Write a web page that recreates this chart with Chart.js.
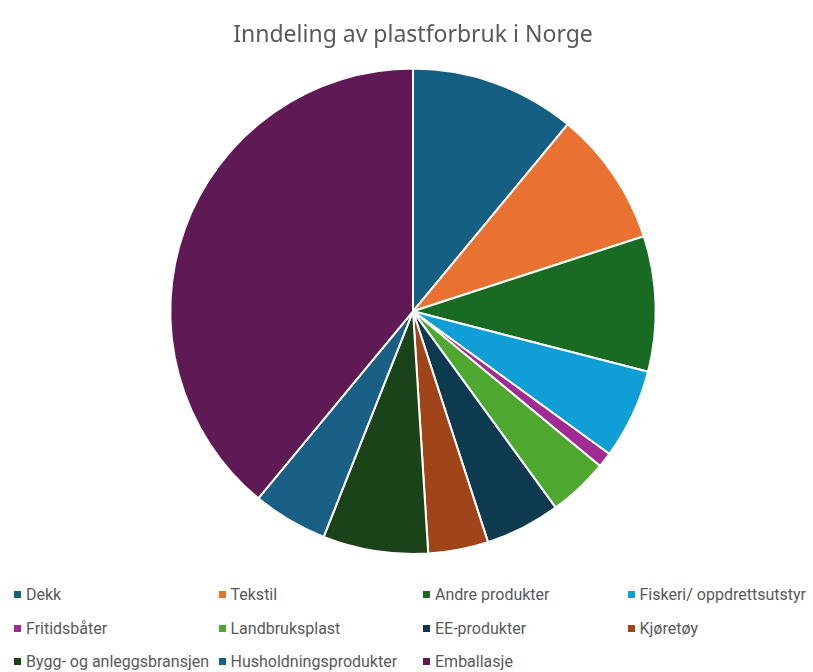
<!DOCTYPE html>
<html>
<head>
<meta charset="utf-8">
<script src="https://cdn.jsdelivr.net/npm/chart.js@4"></script>
<style>
  html, body { margin: 0; padding: 0; background: #fff; }
  #wrap { position: relative; width: 813px; height: 672px; }
  #chart { position: absolute; left: 0; top: 0; }
  #legend { position: absolute; left: 14px; top: 578px; font-family: 'Roboto', sans-serif; font-size: 16px; color: #595959; }
  .row { display: flex; height: 33.5px; align-items: center; }
  .item { display: flex; align-items: center; width: 204.5px; white-space: nowrap; }
  .box { width: 7px; height: 7px; margin-right: 5px; flex: none; }
</style>
</head>
<body>
<div id="wrap">
  <canvas id="chart" width="813" height="560"></canvas>
  <div id="legend"></div>
</div>
<script>
// Andel av plastforbruket (%), lest av figuren
const kategorier = ['Dekk', 'Tekstil', 'Andre produkter', 'Fiskeri/ oppdrettsutstyr', 'Fritidsbåter',
  'Landbruksplast', 'EE-produkter', 'Kjøretøy', 'Bygg- og anleggsbransjen', 'Husholdningsprodukter', 'Emballasje'];
const andeler = [11, 9, 9, 6, 1, 4, 5, 4, 7, 5, 39];
const farger = ['#156082', '#E97132', '#196B24', '#0F9ED5', '#A02B93', '#4EA72E',
  '#0E3A50', '#A0441A', '#1B4319', '#1A5F85', '#5F1A56'];

new Chart(document.getElementById('chart'), {
  type: 'pie',
  data: {
    labels: kategorier,
    datasets: [{ data: andeler, backgroundColor: farger, borderColor: '#ffffff', borderWidth: 2 }]
  },
  options: {
    responsive: false,
    animation: false,
    layout: { padding: { left: 13, right: 0, top: 10, bottom: 5 } },
    plugins: {
      legend: { display: false },
      tooltip: { enabled: false },
      title: {
        display: true,
        text: 'Inndeling av plastforbruk i Norge',
        color: '#595959',
        font: { family: 'Noto Sans', size: 23, weight: 'normal' },
        padding: { top: 12, bottom: 18 }
      }
    }
  }
});

// egen legende i fire kolonner, som i Excel
const legend = document.getElementById('legend');
for (let r = 0; r < kategorier.length; r += 4) {
  const row = document.createElement('div');
  row.className = 'row';
  kategorier.slice(r, r + 4).forEach((k, i) => {
    row.innerHTML += `<div class="item"><span class="box" style="background:${farger[r + i]}"></span>${k}</div>`;
  });
  legend.appendChild(row);
}
</script>
</body>
</html>
